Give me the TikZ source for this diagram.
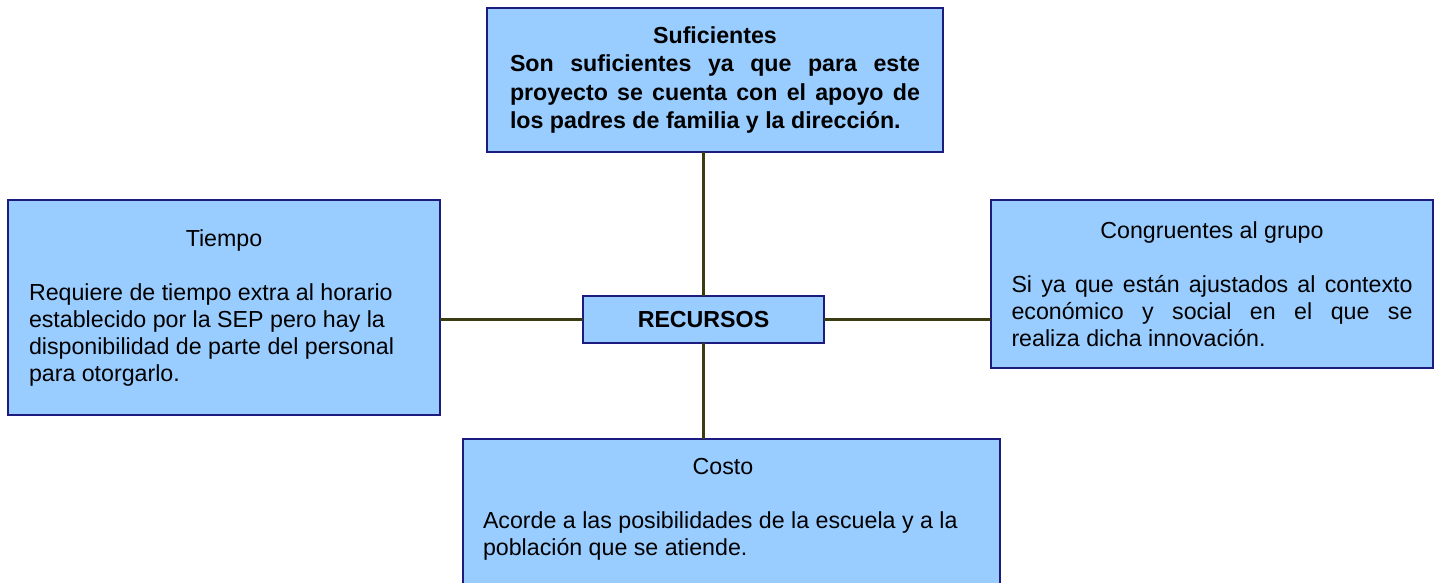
\documentclass[tikz,border=0pt]{standalone}
\usepackage{fontspec}
\setmainfont{Liberation Sans}
\definecolor{boxfill}{RGB}{153,204,255}
\definecolor{boxline}{RGB}{28,28,128}
\definecolor{linkcol}{RGB}{60,60,20}
\begin{document}
\begin{tikzpicture}[x=1pt,y=-1pt,
  box/.style={draw=boxline, fill=boxfill, line width=2pt, inner sep=0pt, outer sep=0pt, rectangle, font=\fontsize{23.2}{27}\selectfont},
  link/.style={draw=linkcol, line width=2.2pt}]
\useasboundingbox (0,0) rectangle (1438,582);
\node[box, minimum width=456pt, minimum height=144pt] (suf) at (715,80)
  {\parbox{410pt}{\bfseries\fontsize{23.2}{28.5}\selectfont{\centering Suficientes\par}Son suficientes ya que para este\linebreak proyecto se cuenta con el apoyo de\linebreak los padres de familia y la dirección.}};
\node[box, minimum width=432pt, minimum height=215pt] (tie) at (224,307.5)
  {\parbox{390pt}{{\centering Tiempo\par}\vspace{\baselineskip}\raggedright Requiere de tiempo extra al horario\\ establecido por la SEP pero hay la\\ disponibilidad de parte del personal\\ para otorgarlo.}};
\node[box, minimum width=442pt, minimum height=168pt] (con) at (1212,284)
  {\parbox{401pt}{{\centering Congruentes al grupo\par}\vspace{\baselineskip}Si ya que están ajustados al contexto\linebreak económico y social en el que se\linebreak realiza dicha innovación.}};
\node[box, minimum width=241pt, minimum height=47pt, font=\bfseries\fontsize{23.2}{27}\selectfont] (rec) at (703.5,319.5) {RECURSOS};
\node[box, minimum width=537pt, minimum height=150pt] (cos) at (731.5,514)
  {\hspace*{-17pt}\parbox{480pt}{{\centering Costo\par}\vspace{\baselineskip}\raggedright Acorde a las posibilidades de la escuela y a la\\ población que se atiende.\par\vspace{10pt}}};
\draw[link] (rec.north) -- (rec.north |- suf.south);
\draw[link] (rec.south) -- (rec.south |- cos.north);
\draw[link] (rec.west) -- (rec.west -| tie.east);
\draw[link] (rec.east) -- (rec.east -| con.west);
\end{tikzpicture}
\end{document}
